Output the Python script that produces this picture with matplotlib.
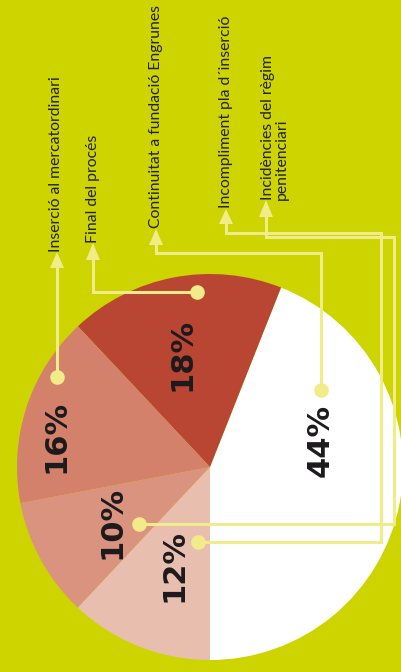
import matplotlib.pyplot as plt
from matplotlib.patches import Polygon

# slices, counterclockwise from the bottom of the pie
labels = ["Continuitat a fundació Engrunes", "Final del procés", "Inserció al mercatordinari",
          "Incidències del règim\npenitenciari", "Incompliment pla d´inserció"]
shares = [44, 18, 16, 10, 12]
colors = ["#ffffff", "#b84633", "#d3816b", "#d9937e", "#e8bfae"]

BG = "#cdd400"
LINE = "#f1eb8a"
H = 672

def py(y):
    # pixel row (from top) -> data y
    return H - y

fig = plt.figure(figsize=(4.01, 6.72), dpi=100)
fig.patch.set_facecolor(BG)
ax = fig.add_axes([0, 0, 1, 1])
ax.set_facecolor(BG)

ax.pie(shares, colors=colors, startangle=-90, counterclock=True,
       center=(210, py(467)), radius=193, frame=True,
       wedgeprops=dict(linewidth=0))

# percentage labels (layout positions)
pct_pos = [(320, 440), (182, 354), (56, 436), (112, 522), (174, 565)]
for v, (x, y) in zip(shares, pct_pos):
    ax.text(x, py(y), f"{v}%", rotation=90, ha="center", va="center",
            fontsize=22, fontweight="bold", color="#1c1a1c", family="DejaVu Sans")

# connector paths: dot -> ... -> arrow base, plus arrow tip, label x and label bottom
paths = [
    [(321, 390), (321, 253), (156, 253), (156, 245)],
    [(197, 292), (93, 292), (93, 260)],
    [(57, 377), (57, 268)],
    [(139, 524), (394, 524), (394, 237), (266, 237), (266, 217)],
    [(198, 542), (381, 542), (381, 233), (226, 233), (226, 224)],
]
tips = [229, 243, 252, 200, 209]
text_x = [156, 93, 56, 275, 226]
text_bottom = [228, 243, 252, 200, 208]

for path, tip, lab, tx, tb in zip(paths, tips, labels, text_x, text_bottom):
    xs = [p[0] for p in path]
    ys = [py(p[1]) for p in path]
    ax.plot(xs, ys, color=LINE, lw=2.2, solid_joinstyle="miter", zorder=3)
    ax.plot(xs[0], ys[0], "o", color=LINE, ms=9.5, zorder=4)
    ax0, ay0 = path[-1]
    ax.add_patch(Polygon([(ax0 - 7, py(ay0)), (ax0 + 7, py(ay0)), (ax0, py(tip))],
                         closed=True, color=LINE, lw=0, zorder=4))
    ax.text(tx, py(tb), lab, rotation=90, ha="center", va="bottom",
            multialignment="left", fontsize=11.3, color="#222222",
            family="Lato", linespacing=1.0)

ax.set_xlim(0, 401)
ax.set_ylim(0, H)
ax.set_aspect("auto")
ax.axis("off")

fig.savefig("out.png", dpi=100, facecolor=BG)
